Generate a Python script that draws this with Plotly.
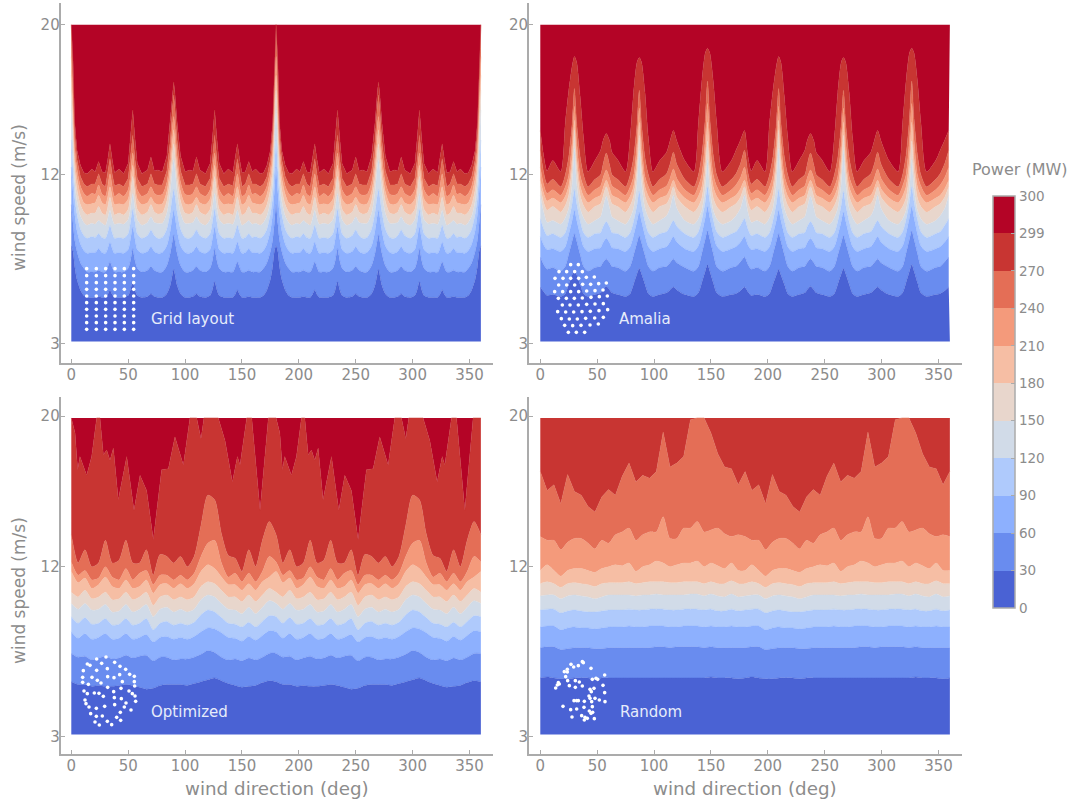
import plotly.graph_objects as go

FONT = "DejaVu Sans"
GREY = "#8c8c8c"
SPINE = "#ababab"
W, H = 1072, 799

# power levels of the filled contours, the last band is rated power
levels = [0, 30, 60, 90, 120, 150, 180, 210, 240, 270, 299, 300]
band_colors = ["#4a62d4", "#698cef", "#8db0fe", "#afcafc", "#d1dbe8", "#e8d6cc",
               "#f6bea4", "#f49a7b", "#e46e56", "#c83532", "#b40426"]

# Each row below: wind speed (m/s) at which the farm reaches that power, by direction.
# Grid layout repeats every 90 deg with mirroring, so one quadrant is read.
grid_dirs = [0, 1.5, 3, 5, 8, 11, 14, 18, 21, 24, 27, 30, 32, 34, 36, 38, 42, 46, 50, 52, 54, 56, 58, 62, 67, 70, 73, 76, 80, 84, 87, 89, 90]
grid_30 = [8.2, 7.9, 7.1, 6.4, 5.85, 5.55, 5.45, 5.45, 5.45, 5.5, 5.45, 5.45, 5.6, 5.85, 5.6, 5.45, 5.45, 5.45, 5.55, 5.85, 6.3, 5.85, 5.55, 5.45, 5.5, 5.65, 5.5, 5.45, 5.45, 5.65, 6.1, 6.7, 6.95]
grid_60 = [10.4, 9.4, 8.5, 7.9, 7.3, 7, 6.8, 6.8, 6.8, 6.9, 6.8, 6.8, 7.05, 7.35, 7.05, 6.8, 6.8, 6.8, 7, 7.4, 8.05, 7.4, 7, 6.8, 6.9, 7.1, 6.9, 6.8, 6.8, 7.15, 7.8, 8.5, 8.8]
grid_90 = [12.4, 11.1, 9.9, 9, 8.3, 7.95, 7.8, 7.85, 7.85, 8.05, 7.85, 7.8, 8.05, 8.4, 8.05, 7.8, 7.85, 7.8, 8, 8.55, 9.2, 8.55, 8, 7.8, 7.9, 8.15, 7.9, 7.8, 7.85, 8.2, 9, 9.8, 10.1]
grid_120 = [13.85, 12.3, 10.8, 9.9, 9.1, 8.75, 8.6, 8.7, 8.65, 8.85, 8.65, 8.6, 8.9, 9.3, 8.9, 8.6, 8.65, 8.6, 8.85, 9.45, 10.15, 9.45, 8.85, 8.6, 8.75, 9.05, 8.75, 8.6, 8.65, 9.1, 10, 10.9, 11.2]
grid_150 = [15.45, 13.7, 11.6, 10.6, 9.8, 9.45, 9.3, 9.4, 9.35, 9.55, 9.4, 9.3, 9.65, 10.1, 9.65, 9.35, 9.4, 9.35, 9.6, 10.2, 11, 10.2, 9.6, 9.3, 9.45, 9.75, 9.45, 9.4, 9.4, 9.95, 11.1, 12.4, 12.8]
grid_180 = [16.5, 14.7, 12.3, 11.2, 10.4, 10, 9.85, 9.95, 9.95, 10.3, 9.95, 9.85, 10.25, 10.8, 10.25, 9.85, 9.95, 9.85, 10.15, 10.9, 11.9, 10.9, 10.15, 9.85, 10, 10.4, 10, 9.9, 9.95, 10.6, 11.8, 13.1, 13.65]
grid_210 = [17.3, 15.6, 12.9, 11.8, 10.95, 10.5, 10.4, 10.45, 10.5, 10.9, 10.5, 10.4, 10.8, 11.35, 10.8, 10.4, 10.45, 10.4, 10.7, 11.4, 12.5, 11.4, 10.7, 10.4, 10.5, 10.8, 10.5, 10.4, 10.45, 11.1, 12.4, 13.8, 14.4]
grid_240 = [18.3, 16.3, 13.5, 12.3, 11.4, 11, 10.85, 11, 10.95, 11.45, 10.95, 10.85, 11.35, 12.05, 11.35, 10.85, 11, 10.85, 11.2, 12, 13.15, 12, 11.2, 10.85, 11, 11.35, 11, 10.9, 10.95, 11.6, 13, 14.6, 15.1]
grid_270 = [20, 17.2, 14.2, 12.8, 11.9, 11.5, 11.35, 11.5, 11.5, 12.05, 11.5, 11.35, 12, 12.85, 12, 11.4, 11.5, 11.35, 11.8, 12.8, 14.1, 12.8, 11.8, 11.35, 11.5, 12.05, 11.5, 11.45, 11.45, 12.2, 13.8, 15.6, 16.25]
grid_299 = [20, 18.1, 14.8, 13.3, 12.5, 12.1, 12.05, 12.3, 12.15, 12.7, 12.15, 12.1, 12.8, 13.65, 12.8, 12.1, 12.3, 12.05, 12.6, 13.9, 15.45, 13.9, 12.6, 12.05, 12.25, 12.95, 12.2, 12.25, 12.15, 13, 14.8, 16.4, 16.95]

# Amalia, Optimized and Random repeat every half turn, so one half is read.
amalia_dirs = [0, 3, 6, 11, 18, 22, 25, 28, 30, 32, 35, 38, 42, 48, 53, 55, 58, 61, 63, 68, 75, 79, 82, 85, 87, 89, 92, 95, 99, 105, 111, 114, 117, 120, 127, 135, 139, 142, 145, 147, 149, 152, 155, 160, 168, 172, 176]
amalia_30 = [6, 5.75, 5.55, 5.6, 5.5, 5.65, 6.15, 6.65, 6.95, 6.65, 6.15, 5.65, 5.5, 5.6, 5.7, 5.85, 6.05, 5.85, 5.7, 5.6, 5.5, 5.65, 6.15, 6.7, 7, 6.7, 6.15, 5.65, 5.5, 5.6, 5.7, 5.85, 6, 5.85, 5.6, 5.5, 5.7, 6.25, 6.85, 7.2, 6.85, 6.25, 5.7, 5.5, 5.6, 5.65, 5.8]
amalia_60 = [7.6, 7.2, 6.95, 7.05, 6.85, 7.1, 7.75, 8.45, 8.85, 8.45, 7.75, 7.1, 6.85, 7.05, 7.1, 7.3, 7.5, 7.3, 7.1, 7.05, 6.85, 7.1, 7.7, 8.35, 8.75, 8.35, 7.7, 7.1, 6.85, 7.05, 7.1, 7.3, 7.5, 7.3, 7.05, 6.85, 7.1, 7.8, 8.55, 9, 8.55, 7.8, 7.1, 6.85, 7.05, 7.1, 7.35]
amalia_90 = [8.7, 8.25, 8, 8.05, 7.9, 8.15, 8.8, 9.55, 10.1, 9.55, 8.8, 8.15, 7.9, 8.05, 8.1, 8.35, 8.6, 8.35, 8.1, 8.05, 7.9, 8.15, 8.75, 9.5, 10, 9.5, 8.75, 8.15, 7.9, 8.05, 8.15, 8.4, 8.7, 8.4, 8.05, 7.9, 8.2, 8.85, 9.7, 10.3, 9.7, 8.85, 8.2, 7.9, 8.05, 8.15, 8.4]
amalia_120 = [9.65, 9.1, 8.75, 8.85, 8.65, 8.9, 9.55, 10.45, 11.2, 10.45, 9.55, 8.9, 8.65, 8.85, 8.9, 9.2, 9.5, 9.2, 8.9, 8.85, 8.65, 8.9, 9.5, 10.35, 11.1, 10.35, 9.5, 8.9, 8.65, 8.85, 8.95, 9.25, 9.55, 9.25, 8.85, 8.65, 8.95, 9.6, 10.55, 11.35, 10.55, 9.6, 8.95, 8.65, 8.85, 8.95, 9.3]
amalia_150 = [10.9, 10, 9.45, 9.55, 9.35, 9.7, 10.2, 11.5, 13.4, 11.5, 10.2, 9.7, 9.35, 9.55, 9.75, 10.2, 10.85, 10.2, 9.75, 9.55, 9.35, 9.7, 10.2, 11.5, 13.3, 11.5, 10.2, 9.7, 9.35, 9.55, 9.8, 10.2, 10.9, 10.2, 9.55, 9.35, 9.65, 10.1, 11.25, 12.8, 11.25, 10.1, 9.65, 9.35, 9.55, 9.8, 10.2]
amalia_180 = [11.35, 10.5, 10.1, 10.3, 10, 10.35, 10.9, 12.4, 14.4, 12.4, 10.9, 10.35, 10, 10.3, 10.45, 10.8, 11.35, 10.8, 10.45, 10.3, 10, 10.35, 10.85, 12.25, 14.1, 12.25, 10.85, 10.35, 10, 10.3, 10.45, 10.8, 11.35, 10.8, 10.3, 10, 10.3, 10.75, 12.1, 13.8, 12.1, 10.75, 10.3, 10, 10.3, 10.45, 10.8]
amalia_210 = [11.7, 11, 10.6, 10.75, 10.5, 10.85, 11.4, 12.9, 14.9, 12.9, 11.4, 10.85, 10.5, 10.75, 10.9, 11.25, 11.7, 11.25, 10.9, 10.75, 10.5, 10.85, 11.35, 12.85, 14.8, 12.85, 11.35, 10.85, 10.5, 10.75, 10.9, 11.25, 11.7, 11.25, 10.75, 10.5, 10.85, 11.35, 12.85, 14.8, 12.85, 11.35, 10.85, 10.5, 10.75, 10.9, 11.25]
amalia_240 = [12.4, 11.45, 11, 11.2, 10.9, 11.35, 11.95, 13.75, 15.65, 13.75, 11.95, 11.35, 10.9, 11.2, 11.4, 11.8, 12.25, 11.8, 11.4, 11.2, 10.9, 11.35, 11.9, 13.7, 15.55, 13.7, 11.9, 11.35, 10.9, 11.2, 11.4, 11.8, 12.3, 11.8, 11.2, 10.9, 11.4, 12, 13.85, 15.8, 13.85, 12, 11.4, 10.9, 11.2, 11.45, 11.85]
amalia_270 = [13.3, 12.1, 11.5, 11.75, 11.35, 12, 12.95, 14.75, 16.6, 14.75, 12.95, 12, 11.35, 11.75, 12, 12.5, 13.15, 12.5, 12, 11.75, 11.35, 12, 12.9, 14.7, 16.5, 14.7, 12.9, 12, 11.35, 11.75, 12.05, 12.55, 13.2, 12.55, 11.75, 11.35, 12, 13.05, 15, 17, 15, 13.05, 12, 11.35, 11.75, 12.05, 12.6]
amalia_299 = [14.35, 13, 12.2, 12.75, 12.15, 14.8, 16.5, 17.8, 18.3, 18, 16.2, 14, 12.15, 12.75, 13.3, 13.8, 14.2, 13.8, 13.2, 12.8, 12.15, 14, 16.4, 18, 18.25, 18, 16.4, 14, 12.15, 12.75, 13.2, 13.8, 14.35, 13.8, 12.75, 12.15, 14.8, 17, 18.5, 18.75, 18.5, 17, 14.8, 12.15, 12.75, 13.3, 13.85]

half_dirs = [0, 6, 12, 18, 24, 30, 36, 42, 48, 54, 60, 66, 72, 78, 84, 90, 96, 102, 108, 114, 120, 126, 132, 138, 144, 150, 156, 162, 168, 174]
opt_30 = [5.9, 5.75, 5.75, 5.65, 5.7, 5.65, 5.65, 5.7, 5.75, 5.7, 5.6, 5.5, 5.55, 5.7, 5.75, 5.75, 5.75, 5.7, 5.8, 5.9, 6, 6.1, 5.95, 5.8, 5.7, 5.6, 5.65, 5.7, 5.85, 5.95]
opt_60 = [7.4, 7.2, 7.25, 7.05, 7.15, 7.25, 7.1, 7.15, 7.3, 7.15, 7.25, 7.3, 7, 7.2, 7.2, 7.05, 7.1, 7.1, 7.2, 7.35, 7.55, 7.45, 7.2, 7.05, 7.1, 7, 7.15, 7.05, 7.2, 7.4]
opt_90 = [8.55, 8.2, 8.45, 8.15, 8.25, 8.45, 8.15, 8.2, 8.45, 8.15, 8.25, 8.4, 8, 8.25, 8.3, 8.15, 8.25, 8.15, 8.3, 8.55, 8.75, 8.7, 8.5, 8.25, 8.2, 8.05, 8.3, 8.1, 8.35, 8.6]
opt_120 = [9.35, 9, 9.3, 8.95, 9, 9.25, 8.9, 8.95, 9.25, 8.9, 9, 9.25, 8.65, 9, 9.1, 8.9, 9, 8.9, 9.05, 9.45, 9.7, 9.6, 9.3, 9, 8.95, 8.8, 9.05, 8.8, 9.1, 9.4]
opt_150 = [10.05, 9.75, 10.05, 9.7, 9.75, 10, 9.6, 9.65, 10, 9.6, 9.75, 10, 9.35, 9.75, 9.85, 9.6, 9.75, 9.6, 9.75, 10.25, 10.5, 10.4, 10.05, 9.75, 9.7, 9.5, 9.85, 9.5, 9.85, 10.2]
opt_180 = [10.65, 10.4, 10.75, 10.3, 10.4, 10.65, 10.25, 10.3, 10.65, 10.25, 10.4, 10.65, 9.95, 10.4, 10.5, 10.25, 10.4, 10.25, 10.4, 10.95, 11.2, 11.1, 10.75, 10.4, 10.4, 10.15, 10.5, 10.15, 10.5, 10.85]
opt_210 = [11.75, 11.15, 11.4, 10.85, 11.05, 11.45, 10.95, 10.85, 11.3, 10.85, 10.95, 11.3, 10.6, 11.05, 11.1, 10.85, 11.1, 10.85, 11.1, 11.75, 12.1, 11.9, 11.45, 11.05, 11.05, 10.75, 11.1, 10.75, 11.2, 11.45]
opt_240 = [12.25, 11.55, 11.8, 11.3, 11.4, 12, 11.45, 11.3, 11.9, 11.3, 11.65, 11.8, 11.05, 11.55, 11.55, 11.3, 11.55, 11.3, 11.65, 12.55, 13.25, 13.4, 12.2, 11.45, 11.65, 11.2, 11.65, 11.2, 11.75, 12.55]
opt_270 = [13.7, 12.2, 12.9, 12, 12.2, 13.4, 12.2, 12.35, 13.4, 12.2, 12.2, 12.9, 11.55, 12.65, 12.55, 12.2, 12.55, 12, 12.55, 14.2, 15.8, 15.55, 13.75, 12.6, 12.45, 11.75, 12.9, 12, 13.4, 14.4]
# the 299 MW edge is jagged, so it has its own directions
opt_299_dirs = [0, 3.3, 5.6, 7.6, 13.5, 17.9, 22.3, 25.2, 28.2, 31.1, 34, 37, 41.3, 48.7, 55.1, 60.4, 66.2, 72.1, 79.4, 85.3, 91.1, 98.5, 104.3, 110.2, 114, 116.6, 129.2, 135.1, 141.6, 146, 148.3, 154.2, 158.6, 165.9, 173.2]
opt_299 = [19.9, 19.1, 17.15, 17.85, 16.85, 17.85, 19.9, 19.9, 17.95, 18.2, 17.65, 18.3, 15.55, 17.85, 15, 16.85, 16.05, 13.45, 17.15, 17.2, 18.9, 17.4, 19.9, 19.9, 18.8, 19.9, 19.9, 18.7, 16.5, 17.85, 17.4, 19.9, 19.9, 15, 19.9]

rand_30 = [6.1, 6.15, 6.1, 6.05, 6.05, 6.1, 6.1, 6.1, 6.05, 6.1, 6.1, 6.1, 6.1, 6.1, 6.1, 6.1, 6.1, 6.1, 6.1, 6.1, 6.1, 6.1, 6.1, 6.1, 6.1, 6.15, 6.1, 6.1, 6.1, 6.05]
rand_60 = [7.7, 7.75, 7.75, 7.6, 7.65, 7.7, 7.7, 7.7, 7.65, 7.65, 7.7, 7.7, 7.7, 7.7, 7.7, 7.7, 7.7, 7.75, 7.75, 7.7, 7.75, 7.75, 7.75, 7.75, 7.7, 7.75, 7.7, 7.7, 7.7, 7.7]
rand_90 = [8.8, 8.85, 8.85, 8.65, 8.75, 8.8, 8.75, 8.75, 8.7, 8.75, 8.8, 8.8, 8.8, 8.85, 8.8, 8.8, 8.85, 8.85, 8.85, 8.8, 8.8, 8.85, 8.85, 8.85, 8.8, 8.85, 8.8, 8.8, 8.85, 8.8]
rand_120 = [9.7, 9.75, 9.75, 9.55, 9.65, 9.7, 9.65, 9.6, 9.6, 9.65, 9.7, 9.7, 9.7, 9.75, 9.7, 9.7, 9.75, 9.75, 9.75, 9.7, 9.7, 9.75, 9.75, 9.75, 9.7, 9.75, 9.65, 9.65, 9.75, 9.65]
rand_150 = [10.45, 10.5, 10.5, 10.3, 10.45, 10.5, 10.45, 10.4, 10.3, 10.4, 10.5, 10.5, 10.5, 10.5, 10.45, 10.5, 10.5, 10.55, 10.5, 10.5, 10.5, 10.5, 10.55, 10.55, 10.45, 10.55, 10.45, 10.4, 10.55, 10.4]
rand_180 = [11.1, 11.2, 11.1, 10.9, 11.1, 11.15, 11.1, 11.05, 10.95, 11.1, 11.15, 11.15, 11.15, 11.2, 11.1, 11.15, 11.2, 11.2, 11.2, 11.15, 11.15, 11.2, 11.2, 11.2, 11.1, 11.2, 11.1, 11.1, 11.25, 11.1]
rand_210 = [11.8, 12.1, 11.8, 11.5, 11.8, 11.9, 11.9, 11.8, 11.7, 11.9, 12, 12.1, 12.05, 12.2, 11.75, 12, 12.1, 12.3, 12.2, 12, 12.1, 12.2, 12.2, 12.3, 12, 12.2, 12.05, 11.9, 12.2, 11.8]
rand_240 = [13.6, 13.4, 13.4, 12.9, 13.3, 13.5, 13.5, 13.25, 12.95, 13.4, 13.25, 13.7, 13.85, 14.05, 13.4, 13.7, 13.85, 13.85, 14.65, 13.5, 13.5, 14.05, 14.05, 14.4, 13.85, 13.95, 14.05, 13.75, 13.6, 13.7]
rand_270 = [17.05, 16.05, 16.35, 15.35, 16.9, 16, 15.8, 15.2, 14.9, 15.7, 16.1, 15.8, 16.8, 17.5, 16.5, 16.85, 16.7, 17.05, 19.15, 17.3, 17.5, 17.85, 19.8, 19.9, 19.9, 19.1, 18, 17.3, 17.2, 16.35]

# turbine positions of each farm, in the coordinates of its inset
grid_farm_cols = [95, 124, 152, 180, 208, 236]
grid_farm_rows = [776, 797, 818, 838, 858, 878, 898, 918, 938, 958]
amalia_farm_x = [122, 145, 87, 110, 134, 157, 75, 99, 122, 146, 169, 193, 86, 110, 134, 158, 182, 206, 229, 74, 98, 122, 146, 170, 195, 219, 85, 109, 133, 157, 183, 208, 232, 97, 120, 145, 170, 195, 220, 83, 107, 131, 156, 181, 207, 233, 94, 118, 142, 167, 194, 220, 104, 128, 153, 180, 205, 115, 139, 164]
amalia_farm_y = [764, 764, 785, 785, 785, 785, 805, 805, 805, 805, 802, 801, 825, 825, 825, 823, 823, 821, 819, 845, 845, 845, 845, 843, 842, 840, 865, 865, 865, 864, 862, 860, 858, 885, 885, 885, 883, 882, 881, 905, 906, 906, 905, 904, 902, 899, 926, 927, 927, 925, 924, 922, 946, 947, 946, 945, 942, 967, 967, 967]
opt_farm_x = [125, 153, 97, 105, 140, 179, 195, 212, 85, 125, 157, 224, 238, 83, 111, 158, 177, 194, 238, 83, 100, 127, 138, 202, 239, 158, 198, 222, 87, 97, 118, 132, 145, 176, 232, 240, 90, 178, 199, 213, 242, 93, 102, 124, 149, 179, 208, 228, 107, 124, 142, 196, 185, 197, 120, 133, 157, 170]
opt_farm_y = [777, 771, 792, 796, 790, 787, 799, 808, 812, 811, 806, 823, 829, 832, 832, 830, 833, 824, 845, 847, 853, 841, 849, 845, 858, 862, 865, 873, 873, 881, 879, 880, 889, 875, 881, 888, 900, 893, 896, 909, 904, 911, 921, 925, 919, 914, 921, 930, 941, 949, 948, 937, 952, 961, 966, 975, 964, 974]
rand_farm_x = [157, 160, 123, 131, 145, 183, 103, 112, 112, 107, 224, 187, 198, 203, 113, 136, 148, 85, 88, 82, 77, 118, 136, 157, 219, 180, 192, 184, 224, 177, 180, 195, 208, 132, 140, 145, 163, 185, 225, 99, 122, 140, 162, 187, 178, 188, 183, 126, 155, 165, 172, 163, 193]
rand_farm_y = [785, 788, 793, 801, 797, 805, 815, 808, 816, 830, 825, 838, 835, 838, 842, 842, 846, 848, 852, 855, 864, 857, 862, 858, 856, 868, 865, 875, 878, 888, 895, 895, 900, 902, 902, 902, 904, 905, 905, 919, 929, 927, 922, 920, 933, 937, 940, 951, 947, 952, 955, 960, 956]

tick_dirs = [0, 50, 100, 150, 200, 250, 300, 350]
tick_speeds = [3, 12, 20]


def mirror_quadrant(dirs, row):
    # 0..90, 90..180 is its mirror image
    return dirs + [180 - d for d in dirs[-2:0:-1]], row + row[-2:0:-1]


def whole_turn(dirs, row, shift=180):
    return dirs + [d + shift for d in dirs] + [2 * shift], row + row + [row[0]]


def grid_row(row):
    return whole_turn(*mirror_quadrant(grid_dirs, row))


def half_row(row, dirs=half_dirs):
    return whole_turn(dirs, row)


panels = [
    {"name": "Grid layout", "bottom": 3.09, "top": 20,
     "edges": [grid_row(r) for r in (grid_30, grid_60, grid_90, grid_120, grid_150, grid_180, grid_210, grid_240, grid_270, grid_299)],
     "farm": ([c for c in grid_farm_cols for _ in grid_farm_rows], grid_farm_rows * len(grid_farm_cols)),
     "box": (60.7, 492.7, 3, 362.7), "x0": 71.3, "y3": 343.3, "ppu": 18.74, "inset": (55, 10), "label": 68.3},
    {"name": "Amalia", "bottom": 3.09, "top": 20,
     "edges": [whole_turn(amalia_dirs, r, 179.5) for r in (amalia_30, amalia_60, amalia_90, amalia_120, amalia_150, amalia_180, amalia_210, amalia_240, amalia_270, amalia_299)],
     "farm": (amalia_farm_x, amalia_farm_y),
     "box": (529, 961.7, 3, 362.7), "x0": 540.3, "y3": 343.3, "ppu": 18.74, "inset": (530, 10), "label": 67.3},
    {"name": "Optimized", "bottom": 3.1, "top": 19.9,
     "edges": [half_row(r) for r in (opt_30, opt_60, opt_90, opt_120, opt_150, opt_180, opt_210, opt_240, opt_270)] + [half_row(opt_299, opt_299_dirs)],
     "farm": (opt_farm_x, opt_farm_y),
     "box": (60.7, 492.7, 397, 754.3), "x0": 71.3, "y3": 736.3, "ppu": 18.84, "inset": (55, 400), "label": 68.3},
    {"name": "Random", "bottom": 3.1, "top": 19.9,
     "edges": [half_row(r) for r in (rand_30, rand_60, rand_90, rand_120, rand_150, rand_180, rand_210, rand_240, rand_270)],
     "farm": (rand_farm_x, rand_farm_y),
     "box": (529, 961.7, 397, 754.3), "x0": 540.3, "y3": 736.3, "ppu": 18.84, "inset": (530, 400), "label": 68},
]

PX_PER_DEG = 1.1377
axis_font = dict(family=FONT, size=15, color=GREY)

fig = go.Figure()
layout = {}

for i, panel in enumerate(panels):
    xname, yname = f"x{i + 1}", f"y{i + 1}"
    left, right, up, down = panel["box"]
    layout[f"xaxis{i + 1}"] = dict(
        domain=[left / W, right / W],
        range=[(left - panel["x0"]) / PX_PER_DEG, (right - panel["x0"]) / PX_PER_DEG],
        anchor=yname, tickvals=tick_dirs, showgrid=False, zeroline=False,
        showline=True, linecolor=SPINE, linewidth=2, ticks="inside", ticklen=4, tickcolor=SPINE,
        tickfont=axis_font, ticklabelstandoff=-3,
    )
    layout[f"yaxis{i + 1}"] = dict(
        domain=[1 - down / H, 1 - up / H],
        range=[3 - (down - panel["y3"]) / panel["ppu"], 3 + (panel["y3"] - up) / panel["ppu"]],
        anchor=xname, tickvals=tick_speeds, showgrid=False, zeroline=False,
        showline=True, linecolor=SPINE, linewidth=2, ticks="inside", ticklen=4, tickcolor=SPINE,
        tickfont=axis_font, ticklabelstandoff=-4,
    )

    # filled bands: every edge fills down to the edge before it
    fig.add_trace(go.Scatter(x=[0, 360], y=[panel["bottom"]] * 2, mode="lines", line=dict(width=0),
                             xaxis=xname, yaxis=yname, showlegend=False, hoverinfo="skip"))
    for k, (xs, ys) in enumerate(panel["edges"]):
        # edges that touch the top stay straight, a spline would overshoot the frame
        shape = "linear" if max(ys) >= panel["top"] - 0.2 else "spline"
        fig.add_trace(go.Scatter(x=xs, y=ys, mode="lines", fill="tonexty", fillcolor=band_colors[k],
                                 line=dict(width=0.4, color=band_colors[k], shape=shape, smoothing=0.7),
                                 xaxis=xname, yaxis=yname, showlegend=False, hoverinfo="skip"))
    fig.add_trace(go.Scatter(x=[0, 360], y=[panel["top"]] * 2, mode="lines", fill="tonexty",
                             fillcolor=band_colors[len(panel["edges"])], line=dict(width=0),
                             xaxis=xname, yaxis=yname, showlegend=False, hoverinfo="skip"))

    # inset with the turbine positions, laid over the panel
    ox, oy = panel["inset"]
    layout[f"xaxis{i + 5}"] = dict(domain=[ox / W, (ox + 230) / W], range=[0, 690], visible=False, anchor=f"y{i + 5}")
    layout[f"yaxis{i + 5}"] = dict(domain=[1 - (oy + 360) / H, 1 - oy / H], range=[1080, 0], visible=False, anchor=f"x{i + 5}")
    fig.add_trace(go.Scatter(x=panel["farm"][0], y=panel["farm"][1], mode="markers",
                             marker=dict(color="white", size=3.6),
                             xaxis=f"x{i + 5}", yaxis=f"y{i + 5}", showlegend=False, hoverinfo="skip"))

    fig.add_annotation(x=panel["label"], y=4.3, xref=xname, yref=yname, text=panel["name"], showarrow=False,
                       xanchor="left", font=dict(family=FONT, size=15, color="#e6ecfb"))

# axis titles sit off the centre of the axes, so they are placed by hand
for cy in (198, 591):
    fig.add_annotation(x=19 / W, y=1 - cy / H, xref="paper", yref="paper", text="wind speed (m/s)", textangle=-90,
                       showarrow=False, xanchor="center", yanchor="middle", font=dict(family=FONT, size=17, color=GREY))
for cx in (276.5, 745):
    fig.add_annotation(x=cx / W, y=1 - 788 / H, xref="paper", yref="paper", text="wind direction (deg)",
                       showarrow=False, xanchor="center", yanchor="middle", font=dict(family=FONT, size=18.3, color=GREY))

# colour bar with equal steps, hanging on a trace without visible points
n_bands = len(band_colors)
stepped = []
for k, color in enumerate(band_colors):
    stepped += [[k / n_bands, color], [(k + 1) / n_bands, color]]
fig.add_trace(go.Scatter(
    x=[None], y=[None], xaxis="x1", yaxis="y1", mode="markers", showlegend=False, hoverinfo="skip",
    marker=dict(color=[0], cmin=0, cmax=n_bands, colorscale=stepped, showscale=True, colorbar=dict(
        x=993 / W, xanchor="left", y=1 - 608 / H, yanchor="bottom", lenmode="pixels", len=412,
        thicknessmode="pixels", thickness=22, xpad=0, ypad=0, outlinecolor=SPINE, outlinewidth=1.5,
        tickmode="array", tickvals=list(range(len(levels))), ticktext=[str(v) for v in levels],
        ticks="inside", ticklen=4, tickcolor=SPINE, tickfont=dict(family=FONT, size=13.5, color=GREY),
    )),
))
fig.add_annotation(x=1019.5 / W, y=1 - 170 / H, xref="paper", yref="paper", text="Power (MW)", showarrow=False,
                   xanchor="center", yanchor="middle", font=dict(family=FONT, size=16, color=GREY))

fig.update_layout(width=W, height=H, margin=dict(l=0, r=0, t=0, b=0), plot_bgcolor="rgba(0,0,0,0)", paper_bgcolor="white",
                  font=dict(family=FONT), **layout)
# the page's default body margin would push the figure off its place
fig.write_html("out.html", config={"displayModeBar": False}, post_script="document.body.style.margin = '0';")
